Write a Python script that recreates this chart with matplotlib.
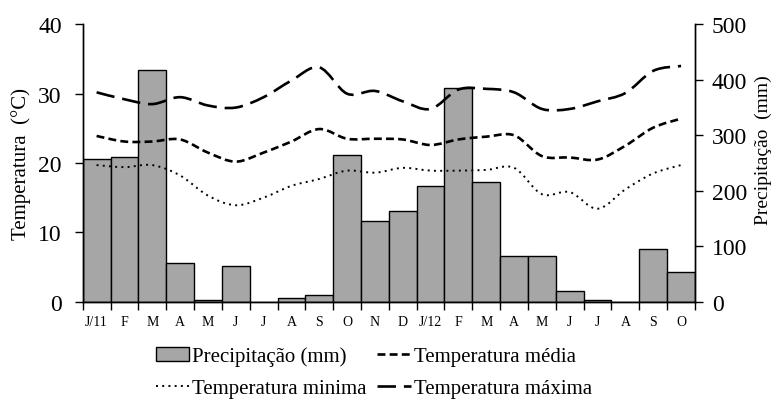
import matplotlib.pyplot as plt
import numpy as np
from matplotlib.path import Path
from matplotlib.patches import PathPatch, Patch
from matplotlib.lines import Line2D

plt.rcParams['font.family'] = ['Liberation Serif', 'DejaVu Serif']

months = ["J/11", "F", "M", "A", "M", "J", "J", "A", "S", "O", "N",
          "D", "J/12", "F", "M", "A", "M", "J", "J", "A", "S", "O"]

# monthly rainfall (mm)
precip = [257, 260, 418, 69, 3, 64, 0, 6, 11, 265, 146,
          164, 209, 386, 215, 82, 82, 19, 3, 0, 95, 53]

# monthly air temperature (°C)
t_mean = [23.9, 23.1, 23.1, 23.4, 21.5, 20.2, 21.5, 23.1, 24.9, 23.5, 23.5,
          23.4, 22.6, 23.4, 23.8, 24.0, 21.0, 20.8, 20.5, 22.5, 25.1, 26.4]
t_min = [19.7, 19.4, 19.7, 18.2, 15.3, 13.9, 15.0, 16.7, 17.7, 18.9, 18.6,
         19.3, 18.9, 18.9, 19.0, 19.3, 15.5, 15.8, 13.4, 16.2, 18.5, 19.7]
t_max = [30.2, 29.2, 28.5, 29.5, 28.3, 28.0, 29.5, 31.9, 33.8, 30.0, 30.4,
         28.9, 27.8, 30.6, 30.7, 30.2, 27.8, 27.8, 28.9, 30.1, 33.3, 34.0]

LS_MAX = (0, (7, 3))
LS_MEAN = (0, (3, 1.6))
LS_MIN = (0, (1, 2.2))


def smooth_path(x, y):
    # Bezier curve through the points, spreadsheet-style smoothing
    pts = np.column_stack([x, y]).astype(float)
    n = len(pts)
    verts = [pts[0]]
    codes = [Path.MOVETO]
    for i in range(n - 1):
        p0 = pts[max(i - 1, 0)]
        p1 = pts[i]
        p2 = pts[i + 1]
        p3 = pts[min(i + 2, n - 1)]
        c1 = p1 + (p2 - p0) / 6.0
        c2 = p2 - (p3 - p1) / 6.0
        verts += [c1, c2, p2]
        codes += [Path.CURVE4] * 3
    return Path(verts, codes)


x = np.arange(len(months))

fig = plt.figure(figsize=(7.8, 4.1), dpi=100)
ax = fig.add_axes([0.106, 0.262, 0.785, 0.676])
ax2 = ax.twinx()

ax2.bar(x, precip, width=1.0, color="#a6a6a6", edgecolor="black", linewidth=1.0)

for series, ls, lw in [(t_max, LS_MAX, 1.9), (t_mean, LS_MEAN, 1.9), (t_min, LS_MIN, 1.4)]:
    ax.add_patch(PathPatch(smooth_path(x, series), fill=False, edgecolor="black",
                           linewidth=lw, linestyle=ls, capstyle="butt"))

ax.set_zorder(ax2.get_zorder() + 1)
ax.patch.set_visible(False)

ax.set_xlim(-0.5, len(months) - 0.5)
ax.set_ylim(0, 40)
ax2.set_ylim(0, 500)
ax.set_yticks([0, 10, 20, 30, 40])
ax2.set_yticks([0, 100, 200, 300, 400, 500])

ax.set_xticks(np.arange(len(months) + 1) - 0.5)
ax.set_xticklabels([])
ax.set_xticks(x, minor=True)
ax.set_xticklabels(months, minor=True, fontsize=10)
ax.tick_params(axis="x", which="major", direction="out", length=6, width=1)
ax.tick_params(axis="x", which="minor", length=0, pad=10)
ax.tick_params(axis="y", direction="out", length=6, width=1, labelsize=17, pad=9)
ax2.tick_params(axis="y", direction="out", length=6, width=1, labelsize=17, pad=6)

for a in (ax, ax2):
    a.spines["top"].set_visible(False)
    for s in ("left", "right", "bottom"):
        a.spines[s].set_linewidth(1.0)

ax.set_ylabel("Temperatura  (°C)", fontsize=15)
ax.yaxis.set_label_coords(-0.085, 0.5)
ax2.set_ylabel("Precipitação  (mm)", fontsize=14)
ax2.yaxis.set_label_coords(1.098, 0.55)

# legend columns fill top-to-bottom
handles = [
    Patch(facecolor="#a6a6a6", edgecolor="black", linewidth=1.0),
    Line2D([], [], color="black", linewidth=1.4, linestyle=LS_MIN),
    Line2D([], [], color="black", linewidth=1.9, linestyle=LS_MEAN),
    Line2D([], [], color="black", linewidth=1.9, linestyle=LS_MAX),
]
labels = ["Precipitação (mm)", "Temperatura minima",
          "Temperatura média", "Temperatura máxima"]
fig.legend(handles, labels, loc="lower left", bbox_to_anchor=(0.176, -0.02),
           ncol=2, frameon=False, fontsize=15, handlelength=1.6,
           handletextpad=0.15, columnspacing=0.5, labelspacing=0.6)

fig.savefig("out.png", dpi=100)
plt.close(fig)
